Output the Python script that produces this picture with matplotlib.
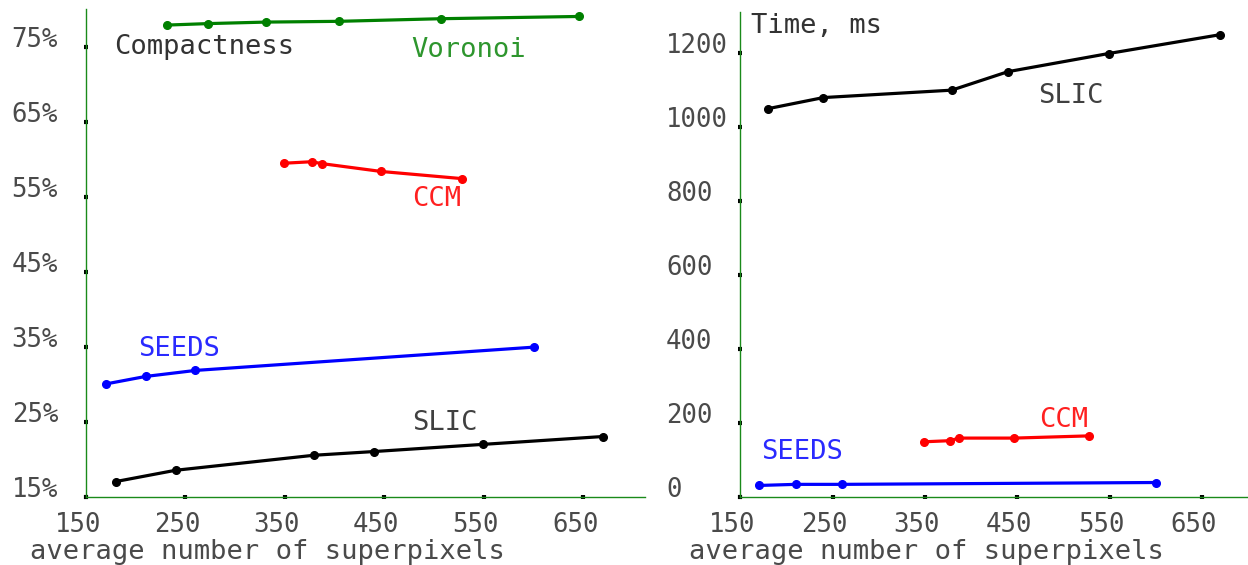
import matplotlib
matplotlib.use("Agg")
import matplotlib.pyplot as plt
from matplotlib.transforms import ScaledTranslation

# ---- data ----
voronoi_x = [231, 273, 331, 404, 507, 646]
voronoi_comp = [77.9, 78.1, 78.3, 78.4, 78.75, 79.05]

ccm_x = [349, 377, 387, 447, 528]
ccm_comp = [59.5, 59.7, 59.45, 58.4, 57.45]
ccm_time = [150, 153, 160, 160, 166]

seeds_x = [170, 210, 260, 600]
seeds_comp = [30.1, 31.1, 31.9, 35.0]
seeds_time = [32, 35, 35, 40]

slic_x = [180, 240, 379, 440, 549, 670]
slic_comp = [17.1, 18.6, 20.6, 21.1, 22.05, 23.1]
slic_time = [1050, 1080, 1100, 1150, 1199, 1250]

x_ticks = [150, 250, 350, 450, 550, 650]
comp_ticks = [15, 25, 35, 45, 55, 65, 75]
comp_labels = ["15%", "25%", "35%", "45%", "55%", "65%", "75%"]
time_ticks = [0, 200, 400, 600, 800, 1000, 1200]
time_labels = ["0", "200", "400", "600", "800", "1000", "1200"]

FONT = "DejaVu Sans Mono"
FS = 19.5
TFS = 18.5
TXT = "#4a4a4a"
AXC = "#1a8a1a"

fig = plt.figure(figsize=(12.48, 5.65), dpi=100)
axL = fig.add_axes([0.0689, 0.1198, 0.4479, 0.8637])
axR = fig.add_axes([0.5932, 0.1198, 0.4068, 0.8595])


def style(ax, yticks, ylabels, xlim, ylim):
    ax.set_xlim(*xlim)
    ax.set_ylim(*ylim)
    for s in ("top", "right"):
        ax.spines[s].set_visible(False)
    for s in ("left", "bottom"):
        ax.spines[s].set_color(AXC)
        ax.spines[s].set_linewidth(1.0)
    ax.set_xticks(x_ticks)
    ax.set_xticklabels([str(v) for v in x_ticks])
    ax.set_yticks(yticks)
    ax.set_yticklabels(ylabels)
    ax.tick_params(axis="both", direction="inout", length=3, width=3,
                   color="black", labelcolor=TXT, labelsize=TFS)
    ax.tick_params(axis="y", pad=52)
    ax.tick_params(axis="x", pad=9)
    for lab in ax.get_yticklabels():
        lab.set_fontfamily(FONT)
        lab.set_horizontalalignment("left")
        lab.set_verticalalignment("baseline")
    off = ScaledTranslation(-8 / 100, 0, fig.dpi_scale_trans)
    for lab in ax.get_xticklabels():
        lab.set_fontfamily(FONT)
        lab.set_transform(lab.get_transform() + off)
    ax.set_xlabel("average number of superpixels", fontsize=FS, family=FONT,
                  color=TXT, ha="left", va="baseline")
    ax.xaxis.set_label_coords(-0.101, -0.126)


style(axL, comp_ticks, comp_labels, (150, 712), (15, 80))
style(axR, time_ticks, time_labels, (150, 700), (0, 1312))

lw, ms = 2.3, 5.5
axL.plot(voronoi_x, voronoi_comp, "-o", color="#008000", lw=lw, ms=ms, clip_on=False)
axL.plot(ccm_x, ccm_comp, "-o", color="#ff0000", lw=lw, ms=ms, clip_on=False)
axL.plot(seeds_x, seeds_comp, "-o", color="#0000ff", lw=lw, ms=ms, clip_on=False)
axL.plot(slic_x, slic_comp, "-o", color="black", lw=lw, ms=ms, clip_on=False)

axR.plot(ccm_x, ccm_time, "-o", color="#ff0000", lw=lw, ms=ms, clip_on=False)
axR.plot(seeds_x, seeds_time, "-o", color="#0000ff", lw=lw, ms=ms, clip_on=False)
axR.plot(slic_x, slic_time, "-o", color="black", lw=lw, ms=ms, clip_on=False)

kw = dict(fontsize=FS, family=FONT, ha="left", va="baseline")
axL.text(178, 74.1, "Compactness", color="#333333", **kw)
axL.text(477, 73.7, "Voronoi", color="#2e962e", **kw)
axL.text(478, 53.8, "CCM", color="#ff2020", **kw)
axL.text(202, 33.8, "SEEDS", color="#2a2aff", **kw)
axL.text(478, 23.9, "SLIC", color="#404040", **kw)

axR.text(162, 1255, "Time, ms", color="#333333", **kw)
axR.text(473, 1066, "SLIC", color="#404040", **kw)
axR.text(474, 190, "CCM", color="#ff2020", **kw)
axR.text(173, 103, "SEEDS", color="#2a2aff", **kw)

fig.savefig("out.png", dpi=100)
